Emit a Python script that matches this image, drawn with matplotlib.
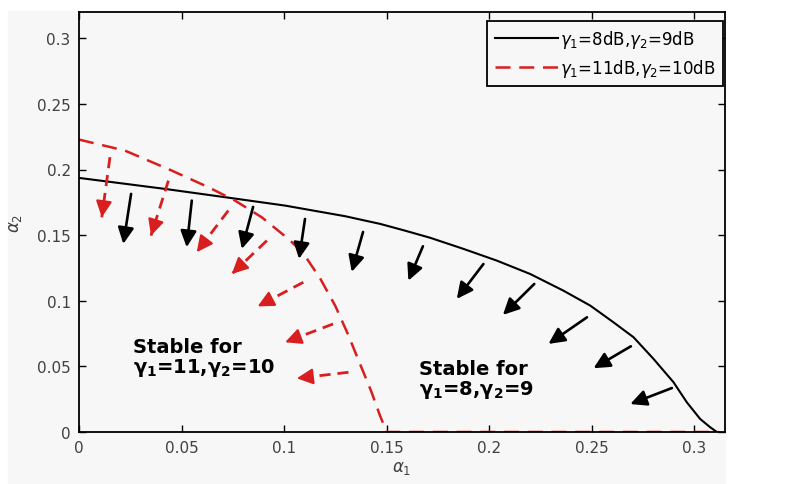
import matplotlib
matplotlib.use("Agg")
import matplotlib.pyplot as plt
from matplotlib.patches import Rectangle

plt.rcParams['font.family'] = ['DejaVu Sans']
plt.rcParams['mathtext.fontset'] = 'dejavusans'

# -----------------------------
# boundary curves
# -----------------------------
black_x = [0.0, 0.042, 0.0712, 0.1005, 0.1298, 0.147, 0.159, 0.1712, 0.1875, 0.2037,
           0.220, 0.2362, 0.2493, 0.2606, 0.2704, 0.2802, 0.2899, 0.2964, 0.3029,
           0.3078, 0.311]
black_y = [0.1936, 0.1852, 0.1789, 0.1725, 0.1644, 0.1585, 0.1534, 0.1480, 0.1395, 0.1306,
           0.1204, 0.1077, 0.0963, 0.0836, 0.0722, 0.0556, 0.0379, 0.0226, 0.0099,
           0.0036, 0.0]

red_x = [0.0, 0.0224, 0.0452, 0.0631, 0.0761, 0.0891, 0.1021, 0.109, 0.1176, 0.125,
         0.131, 0.137, 0.1425, 0.1468, 0.150, 0.312]
red_y = [0.2228, 0.2144, 0.1992, 0.1865, 0.1763, 0.1636, 0.1471, 0.137, 0.117, 0.096,
         0.075, 0.052, 0.031, 0.0124, 0.0, 0.0]

# arrows: tail (x, y) -> head (x, y)
black_tail_x = [0.0254, 0.0550, 0.0849, 0.1102, 0.1385, 0.1677, 0.1972, 0.2220, 0.2477, 0.2691, 0.2891]
black_tail_y = [0.1814, 0.1763, 0.1715, 0.1623, 0.1524, 0.1415, 0.1280, 0.1128, 0.0874, 0.0653, 0.0335]
black_head_x = [0.0216, 0.0525, 0.0794, 0.1073, 0.1330, 0.1606, 0.1842, 0.2067, 0.2289, 0.2509, 0.2688]
black_head_y = [0.1433, 0.1408, 0.1395, 0.1319, 0.1220, 0.1153, 0.1014, 0.0892, 0.0671, 0.0486, 0.0213]

red_tail_x = [0.0151, 0.0436, 0.0728, 0.0916, 0.1094, 0.1239, 0.1314]
red_tail_y = [0.2094, 0.1915, 0.1687, 0.1458, 0.1141, 0.0823, 0.0455]
red_head_x = [0.0111, 0.0351, 0.0574, 0.0745, 0.0871, 0.1005, 0.1062]
red_head_y = [0.1636, 0.1496, 0.1370, 0.1204, 0.0957, 0.0684, 0.0409]

ticks = [0, 0.05, 0.1, 0.15, 0.2, 0.25, 0.3]
tick_labels = ['0', '0.05', '0.1', '0.15', '0.2', '0.25', '0.3']

RED = '#d81e1e'
BG = '#f7f7f7'
HEAD = '-|>,head_length=0.65,head_width=0.32'

fig = plt.figure(figsize=(7.89, 4.85), dpi=100, facecolor='white')
fig.patches.append(Rectangle((8 / 789, 0), (725 - 8) / 789, (485 - 12) / 485,
                             transform=fig.transFigure, color=BG, zorder=-10))
ax = fig.add_axes([79 / 789, 1 - 433 / 485, 646 / 789, 420 / 485])
ax.set_facecolor(BG)

ax.plot(black_x, black_y, color='black', lw=1.5,
        label=r'$\gamma_1$=8dB,$\gamma_2$=9dB')
ax.plot(red_x, red_y, color=RED, lw=1.8, linestyle=(0, (6, 3.5)),
        label=r'$\gamma_1$=11dB,$\gamma_2$=10dB')

# black arrows (solid)
for tx, ty, hx, hy in zip(black_tail_x, black_tail_y, black_head_x, black_head_y):
    ax.annotate('', xy=(hx, hy), xytext=(tx, ty),
                arrowprops=dict(arrowstyle=HEAD, mutation_scale=15, color='black',
                                lw=1.9, shrinkA=0, shrinkB=0))

# red arrows (dashed shaft + solid head)
for tx, ty, hx, hy in zip(red_tail_x, red_tail_y, red_head_x, red_head_y):
    ax.plot([tx, hx], [ty, hy], color=RED, lw=2, linestyle=(0, (4, 2.5)))
    bx = hx + 0.25 * (tx - hx)
    by = hy + 0.25 * (ty - hy)
    ax.annotate('', xy=(hx, hy), xytext=(bx, by),
                arrowprops=dict(arrowstyle=HEAD, mutation_scale=15, color=RED,
                                lw=1.6, shrinkA=0, shrinkB=0))

ax.text(0.0263, 0.0726, 'Stable for\n' + r'$\mathbf{\gamma_1}$=11,$\mathbf{\gamma_2}$=10',
        fontsize=14, fontweight='bold', va='top', linespacing=1.0)
ax.text(0.1659, 0.0558, 'Stable for\n' + r'$\mathbf{\gamma_1}$=8,$\mathbf{\gamma_2}$=9',
        fontsize=14, fontweight='bold', va='top', linespacing=1.0)

ax.set_xlim(0, 0.315)
ax.set_ylim(0, 0.32)
ax.set_xticks(ticks)
ax.set_xticklabels(tick_labels)
ax.set_yticks(ticks)
ax.set_yticklabels(tick_labels)
ax.tick_params(direction='in', length=5, width=1, top=True, right=True,
               labelsize=11, labelcolor='#404040')
ax.tick_params(axis='x', pad=6)
ax.tick_params(axis='y', pad=6)
for s in ax.spines.values():
    s.set_linewidth(1.3)

ax.set_xlabel(r'$\alpha_1$', fontsize=12, color='#404040', labelpad=2)
ax.set_ylabel(r'$\alpha_2$', fontsize=12, color='#404040', labelpad=9)

leg = ax.legend(loc='upper right', bbox_to_anchor=(0.997, 0.979), fontsize=12,
                handlelength=3.8, handletextpad=0.1, borderpad=0.45,
                labelspacing=0.4, fancybox=False, framealpha=1,
                facecolor=BG, edgecolor='black', borderaxespad=0)
leg.get_frame().set_linewidth(1.3)

fig.savefig('out.png', dpi=100, facecolor=fig.get_facecolor())
